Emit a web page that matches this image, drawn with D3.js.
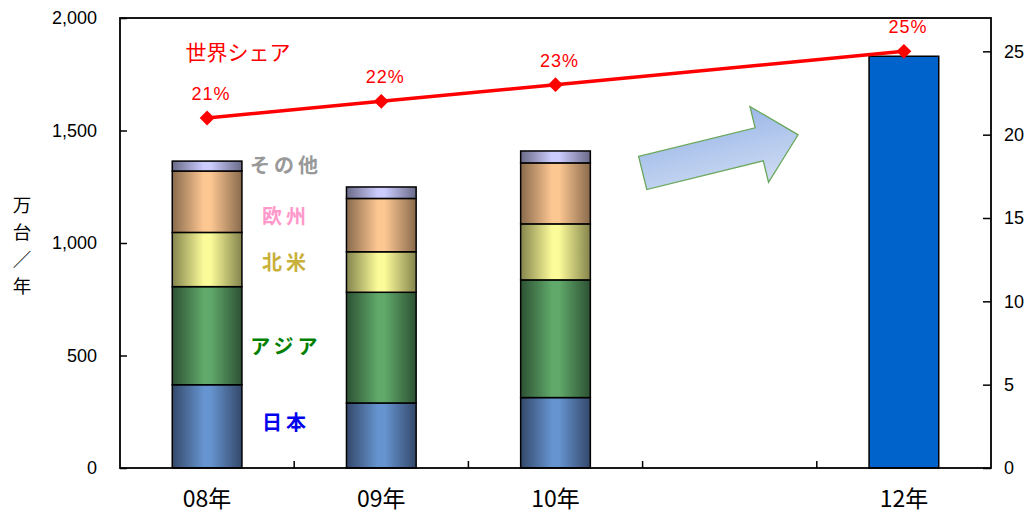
<!DOCTYPE html>
<html>
<head>
<meta charset="utf-8">
<script src="https://cdn.jsdelivr.net/npm/d3@7"></script>
<style>
  html, body { margin: 0; padding: 0; background: #ffffff; }
  svg { display: block; }
</style>
</head>
<body>
<svg id="chart" width="1032" height="515"></svg>
<script>
// ---- data ----
const categories = ["08", "09", "10", "11", "12"];
const tickLabels = ["08年", "09年", "10年", "", "12年"];
const regions = ["日本", "アジア", "北米", "欧州", "その他"];
const japan        = [370, 289, 313, null, null];
const asia         = [436, 492, 523, null, null];
const northAmerica = [241, 180, 249, null, null];
const europe       = [273, 237, 271, null, null];
const other        = [44, 51, 53, null, null];
const forecastTotal = [null, null, null, null, 1830];
const worldShare   = [21, 22, 23, null, 25];
const leftTicks  = [0, 500, 1000, 1500, 2000];
const rightTicks = [0, 5, 10, 15, 20, 25];

// ---- layout ----
const plot = { left: 120, right: 991, top: 18, bottom: 468 };
const svg = d3.select("#chart");
const defs = svg.append("defs");

const x = d3.scaleBand().domain(categories).range([plot.left, plot.right]).paddingInner(0).paddingOuter(0);
const yL = d3.scaleLinear().domain([0, 2000]).range([plot.bottom, plot.top]);
const yR = d3.scaleLinear().domain([0, 27]).range([plot.bottom, plot.top]);
const barW = x.bandwidth() * 0.4;
const cx = c => x(c) + x.bandwidth() / 2;

// horizontal shading for the stacked segments
const shades = {
  "日本":   ["#34486a", "#6694d0"],
  "アジア": ["#2d5133", "#60a96a"],
  "北米":   ["#84844d", "#fbfb99"],
  "欧州":   ["#896a4c", "#fdc792"],
  "その他": ["#6a6a88", "#ccccff"]
};
regions.forEach((r, i) => {
  const g = defs.append("linearGradient").attr("id", "grad" + i)
    .attr("x1", "0%").attr("x2", "100%").attr("y1", "0%").attr("y2", "0%");
  g.append("stop").attr("offset", "0%").attr("stop-color", shades[r][0]);
  g.append("stop").attr("offset", "45%").attr("stop-color", shades[r][1]);
  g.append("stop").attr("offset", "55%").attr("stop-color", shades[r][1]);
  g.append("stop").attr("offset", "100%").attr("stop-color", shades[r][0]);
});
const arrowGrad = defs.append("linearGradient").attr("id", "arrowGrad")
  .attr("x1", "0%").attr("x2", "0%").attr("y1", "0%").attr("y2", "100%");
arrowGrad.append("stop").attr("offset", "0%").attr("stop-color", "#9cb8e8");
arrowGrad.append("stop").attr("offset", "100%").attr("stop-color", "#cfdcf3");

// ---- stacked bars ----
const seriesByRegion = [japan, asia, northAmerica, europe, other];
const rows = categories.map((c, i) => {
  const o = { cat: c };
  regions.forEach((r, k) => { o[r] = seriesByRegion[k][i] || 0; });
  return o;
});
const stacked = d3.stack().keys(regions)(rows);

const barsG = svg.append("g");
stacked.forEach((layer, k) => {
  barsG.selectAll(null)
    .data(layer.filter(d => d[1] > d[0]))
    .enter().append("rect")
    .attr("x", d => cx(d.data.cat) - barW / 2)
    .attr("width", barW)
    .attr("y", d => yL(d[1]))
    .attr("height", d => yL(d[0]) - yL(d[1]))
    .attr("fill", "url(#grad" + k + ")")
    .attr("stroke", "#000")
    .attr("stroke-width", 1.5);
});

// forecast bar
barsG.selectAll(null)
  .data(categories.map((c, i) => ({ cat: c, v: forecastTotal[i] })).filter(d => d.v != null))
  .enter().append("rect")
  .attr("x", d => cx(d.cat) - barW / 2)
  .attr("width", barW)
  .attr("y", d => yL(d.v))
  .attr("height", d => yL(0) - yL(d.v))
  .attr("fill", "#0063cc")
  .attr("stroke", "#000")
  .attr("stroke-width", 1.5);

// ---- frame and axes ----
svg.append("rect")
  .attr("x", plot.left).attr("y", plot.top)
  .attr("width", plot.right - plot.left).attr("height", plot.bottom - plot.top)
  .attr("fill", "none").attr("stroke", "#000").attr("stroke-width", 1.8);

const axisFont = "'Liberation Sans', Arial, sans-serif";
const jpFont = "'Noto Sans CJK JP', sans-serif";

const leftAxis = svg.append("g").attr("transform", `translate(${plot.left},0)`)
  .call(d3.axisRight(yL).tickValues(leftTicks).tickSize(7).tickFormat(d3.format(",")));
leftAxis.select(".domain").remove();
leftAxis.selectAll("line").attr("stroke", "#000").attr("stroke-width", 1.5);
leftAxis.selectAll("text")
  .attr("x", -23).attr("text-anchor", "end")
  .style("font-family", axisFont).style("font-size", "18px").attr("fill", "#000");

const rightAxis = svg.append("g").attr("transform", `translate(${plot.right},0)`)
  .call(d3.axisLeft(yR).tickValues(rightTicks).tickSize(8));
rightAxis.select(".domain").remove();
rightAxis.selectAll("line").attr("stroke", "#000").attr("stroke-width", 1.5);
rightAxis.selectAll("text")
  .attr("x", 13).attr("text-anchor", "start")
  .style("font-family", axisFont).style("font-size", "18px").attr("fill", "#000");

// category boundaries as inward ticks along the bottom
svg.append("g").selectAll("line")
  .data(categories.slice(1))
  .enter().append("line")
  .attr("x1", d => x(d)).attr("x2", d => x(d))
  .attr("y1", plot.bottom).attr("y2", plot.bottom - 7)
  .attr("stroke", "#000").attr("stroke-width", 1.5);

svg.append("g").selectAll("text")
  .data(categories.map((c, i) => ({ cat: c, label: tickLabels[i] })))
  .enter().append("text")
  .attr("x", d => cx(d.cat))
  .attr("y", 507)
  .attr("text-anchor", "middle")
  .style("font-family", jpFont)
  .style("font-size", "23px")
  .attr("fill", "#000")
  .text(d => d.label);

// vertical unit title, one character per line
const unitTitle = ["万", "台", "／", "年"];
svg.append("g").selectAll("text")
  .data(unitTitle).enter().append("text")
  .attr("x", 22)
  .attr("y", (d, i) => 212 + i * 27)
  .attr("text-anchor", "middle")
  .style("font-family", jpFont)
  .style("font-size", "18.5px")
  .attr("fill", "#000")
  .text(d => d);

// ---- region labels beside the first bar, placed along the left scale ----
const regionColors = { "日本": "#0000ee", "アジア": "#008000", "北米": "#c8b03a", "欧州": "#ff99cc", "その他": "#999999" };
const labelLevels = { "日本": 200, "アジア": 536, "北米": 911, "欧州": 1116, "その他": 1344 };
const labelX = cx(categories[0]) + barW / 2 + 44;
svg.append("g").selectAll("text")
  .data(regions)
  .enter().append("text")
  .attr("x", labelX)
  .attr("y", r => yL(labelLevels[r]))
  .attr("text-anchor", "middle")
  .attr("dy", "0.35em")
  .style("font-family", jpFont)
  .style("font-weight", "bold")
  .style("font-size", "20px")
  .style("letter-spacing", "4px")
  .attr("fill", r => regionColors[r])
  .text(r => r);

// ---- trend arrow ----
svg.append("polygon")
  .attr("points", [[0, -17], [120, -17], [120, -39], [160, 0], [120, 39], [120, 17], [0, 17]].map(p => p.join(",")).join(" "))
  .attr("transform", `translate(${cx("11") - 87},173) rotate(-13.8)`)
  .attr("fill", "url(#arrowGrad)")
  .attr("stroke", "#6aa85c")
  .attr("stroke-width", 1.3);

// ---- world share line ----
const sharePts = categories.map((c, i) => ({ cat: c, v: worldShare[i] })).filter(d => d.v != null);
svg.append("path")
  .datum(sharePts)
  .attr("d", d3.line().x(d => cx(d.cat)).y(d => yR(d.v)))
  .attr("fill", "none")
  .attr("stroke", "#ff0000")
  .attr("stroke-width", 3.5);
svg.append("g").selectAll("path")
  .data(sharePts).enter().append("path")
  .attr("d", d3.symbol().type(d3.symbolSquare).size(110))
  .attr("transform", d => `translate(${cx(d.cat)},${yR(d.v)}) rotate(45)`)
  .attr("fill", "#ff0000");
svg.append("g").selectAll("text")
  .data(sharePts).enter().append("text")
  .attr("x", d => cx(d.cat) + 4)
  .attr("y", d => yR(d.v) - 18)
  .attr("text-anchor", "middle")
  .style("font-family", axisFont)
  .style("font-size", "18px")
  .style("letter-spacing", "1px")
  .attr("fill", "#ff0000")
  .text(d => d.v + "%");

svg.append("text")
  .attr("x", 238).attr("y", 60)
  .attr("text-anchor", "middle")
  .style("font-family", jpFont)
  .style("font-size", "21px")
  .attr("fill", "#ff0000")
  .text("世界シェア");
</script>
</body>
</html>
